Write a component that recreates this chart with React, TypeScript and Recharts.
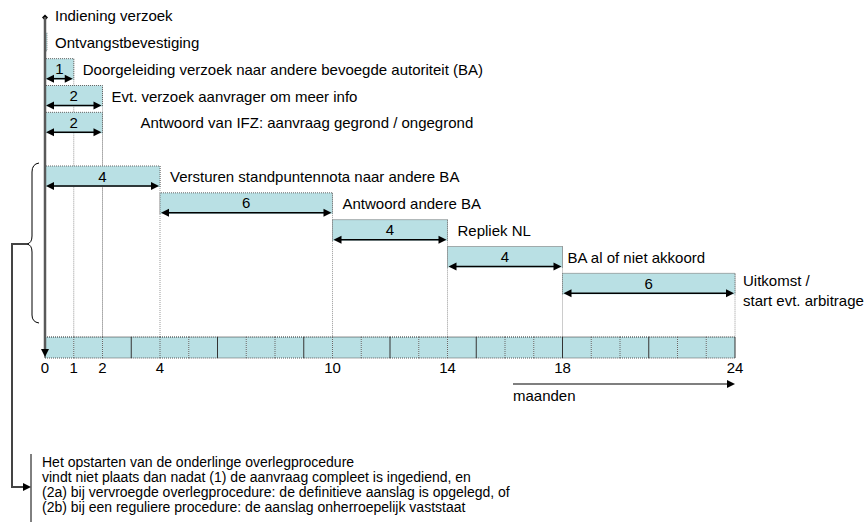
import React from 'react';
import { ComposedChart, Bar, XAxis, YAxis } from 'recharts';

// rows from top to bottom; '' rows are empty spacers
const STEPS = [
  'Indiening verzoek',
  'Ontvangstbevestiging',
  'Doorgeleiding verzoek naar andere bevoegde autoriteit (BA)',
  'Evt. verzoek aanvrager om meer info',
  'Antwoord van IFZ: aanvraag gegrond / ongegrond',
  '',
  'Versturen standpuntennota naar andere BA',
  'Antwoord andere BA',
  'Repliek NL',
  'BA al of niet akkoord',
  'Uitkomst /\nstart evt. arbitrage',
  '',
];
const STARTS = [0, 0, 0, 0, 0, null, 0, 4, 10, 14, 18, null];
const ENDS = [0, 0.07, 1, 2, 2, null, 4, 10, 14, 18, 24, null];

const MONTHS = [0, 1, 2, 3, 4, 5, 6, 7, 8, 9, 10, 11, 12, 13, 14, 15, 16, 17, 18, 19, 20, 21, 22, 23, 24];
const LABELED_MONTHS = [0, 1, 2, 4, 10, 14, 18, 24];

const NOTE_LINES = [
  'Het opstarten van de onderlinge overlegprocedure',
  'vindt niet plaats dan nadat (1) de aanvraag compleet is ingediend, en',
  '(2a) bij vervroegde overlegprocedure: de definitieve aanslag is opgelegd, of',
  '(2b) bij een reguliere procedure: de aanslag onherroepelijk vaststaat',
];

// gap between bar end and its description
const LABEL_GAP = [10, 8, 9, 9, 38, 0, 10, 10, 10, 5, 8, 0];

const W = 868;
const H = 524;
const PLOT_LEFT = 45;
const PLOT_RIGHT = 735;
const MARGIN = { top: 2, right: W - PLOT_RIGHT, bottom: 140, left: PLOT_LEFT };
const AXIS_H = 60;
const PLOT_BOTTOM = H - MARGIN.bottom - AXIS_H;
const STRIP_TOP = PLOT_BOTTOM + 13;
const STRIP_H = 21;
const MONTH_PX = (PLOT_RIGHT - PLOT_LEFT) / 24;

const FONT = '"Liberation Sans", Arial, sans-serif';
const FILL = '#b9e0e4';

const data = STEPS.map((step, i) => ({
  id: `r${i}`,
  step,
  gap: LABEL_GAP[i],
  range: STARTS[i] == null ? null : [STARTS[i], ENDS[i]],
}));

const StepShape = (props: any) => {
  const { x, y, width, height, payload } = props;
  if (!payload || !payload.range) return <g />;
  const [s, e] = payload.range;
  const dur = e - s;
  const cy = y + height / 2;
  const right = x + width;
  const lines = payload.step.split('\n');

  const label = (
    <text x={right + payload.gap} y={cy + 5.5 - (lines.length > 1 ? 3 : 0)} fontSize={15} fontFamily={FONT} fill="#000">
      {lines.map((l: string, i: number) => (
        <tspan key={i} x={right + payload.gap} dy={i === 0 ? 0 : 20}>
          {l}
        </tspan>
      ))}
    </text>
  );

  if (dur === 0) {
    return (
      <g>
        <path d={`M${x} ${cy - 1} l3 3 l-3 3 l-3 -3 z`} fill="#000" />
        {label}
      </g>
    );
  }
  if (dur < 1) {
    return (
      <g>
        <rect x={x} y={y + 1} width={Math.max(width, 2)} height={height - 3} fill={FILL} stroke="#777" strokeDasharray="1 1" strokeWidth={0.8} />
        {label}
      </g>
    );
  }

  const ay = y + height - 1;
  return (
    <g>
      <line x1={right} y1={y} x2={right} y2={STRIP_TOP} stroke="#999" strokeDasharray="1 1" />
      <rect x={x} y={y} width={width} height={height} fill={FILL} />
      <path d={`M${x} ${y + height} V${y} H${right} V${y + height}`} fill="none" stroke="#666" strokeDasharray="1 1" />
      <line x1={x + 6} y1={ay} x2={right - 6} y2={ay} stroke="#000" strokeWidth={1.5} />
      <path d={`M${x + 1} ${ay} l8 -4 v8 z`} fill="#000" />
      <path d={`M${right - 1} ${ay} l-8 -4 v8 z`} fill="#000" />
      <text x={x + width / 2} y={cy + 5} textAnchor="middle" fontSize={15} fontFamily={FONT} fill="#000">
        {dur}
      </text>
      {label}
    </g>
  );
};

const MonthTick = (props: any) => {
  const { x, y, payload } = props;
  const v = payload.value;
  const top = y + 13;
  return (
    <g>
      {v < 24 && (
        <g>
          <rect x={x} y={top} width={MONTH_PX} height={STRIP_H} fill={FILL} />
          <line x1={x} y1={top} x2={x + MONTH_PX} y2={top} stroke="#222" strokeDasharray="1 1" />
          <line x1={x} y1={top + STRIP_H} x2={x + MONTH_PX} y2={top + STRIP_H} stroke="#555" strokeDasharray="1 1" />
        </g>
      )}
      <line x1={x} y1={top} x2={x} y2={top + STRIP_H} stroke={v % 3 === 0 ? '#333' : '#666'} strokeDasharray={v % 3 === 0 ? undefined : '1 1'} />
      {LABELED_MONTHS.includes(v) && (
        <text x={x} y={top + STRIP_H + 15} textAnchor="middle" fontSize={15} fontFamily={FONT} fill="#000">
          {v}
        </text>
      )}
    </g>
  );
};

const Overlay = () => (
  <svg width={W} height={H} style={{ position: 'absolute', left: 0, top: 0, pointerEvents: 'none' }}>
    {/* time axis going down */}
    <line x1={PLOT_LEFT} y1={17} x2={PLOT_LEFT} y2={350} stroke="#595959" strokeWidth={2.5} />
    <path d={`M${PLOT_LEFT - 4} 349 h8 l-4 8 z`} fill="#000" />

    {/* brace */}
    <path
      d="M39 163 Q32 164 32 172 V236 Q32 243 27 244 Q32 245 32 252 V315 Q32 322 39 323"
      fill="none"
      stroke="#000"
      strokeWidth={1}
    />
    <polyline points="27,244 12,244 12,487 24,487" fill="none" stroke="#444" strokeWidth={2} />
    <path d="M23 483 l8 4 l-8 4 z" fill="#000" />
    <line x1={31} y1={454} x2={31} y2={522} stroke="#000" strokeWidth={1} />
    <text fontSize={14} fontFamily={FONT} fill="#000">
      {NOTE_LINES.map((l, i) => (
        <tspan key={i} x={42} y={467 + i * 15}>
          {l}
        </tspan>
      ))}
    </text>

    {/* months arrow */}
    <line x1={513} y1={384} x2={728} y2={384} stroke="#000" strokeWidth={1.2} />
    <path d="M727 380 l8 4 l-8 4 z" fill="#000" />
    <text x={513} y={401} fontSize={15} fontFamily={FONT} fill="#000">
      maanden
    </text>
  </svg>
);

export default function App() {
  return (
    <div style={{ position: 'absolute', left: 0, top: 0, width: W, height: H, background: '#fff' }}>
      <ComposedChart width={W} height={H} data={data} layout="vertical" margin={MARGIN}>
        <XAxis
          type="number"
          domain={[0, 24]}
          ticks={MONTHS}
          interval={0}
          height={AXIS_H}
          axisLine={false}
          tickLine={false}
          tickSize={0}
          tickMargin={0}
          tick={<MonthTick />}
        />
        <YAxis type="category" dataKey="id" hide />
        <Bar dataKey="range" barSize={21} shape={<StepShape />} isAnimationActive={false} />
      </ComposedChart>
      <Overlay />
    </div>
  );
}
